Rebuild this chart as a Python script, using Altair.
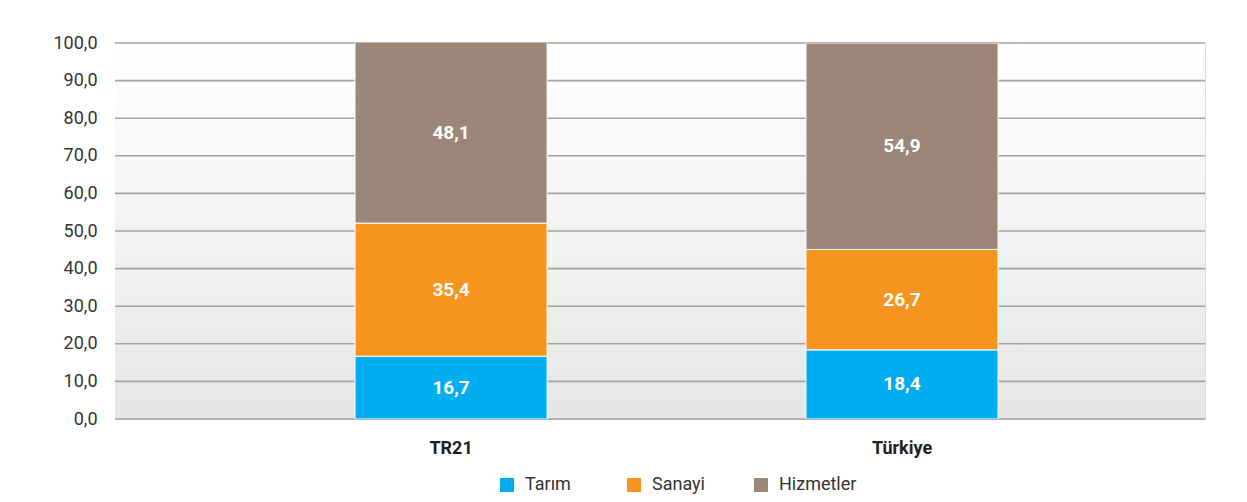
import altair as alt
import pandas as pd

categories = ["TR21", "Türkiye"]
series = ["Tarım", "Sanayi", "Hizmetler"]
tarim = [16.7, 18.4]
sanayi = [35.4, 26.7]
hizmetler = [48.1, 54.9]
y_ticks = [0, 10, 20, 30, 40, 50, 60, 70, 80, 90, 100]
colors = ["#00AEEF", "#F7941D", "#9C8677"]

FONT = "Roboto"

rows = []
for ci, c in enumerate(categories):
    for si, (s, vals) in enumerate(zip(series, [tarim, sanayi, hizmetler])):
        rows.append({"cat": c, "series": s, "idx": si, "value": vals[ci]})
df = pd.DataFrame(rows)

W, H = 1090, 376
yscale = alt.Scale(domain=[0, 100], nice=False, zero=True)
xscale = alt.Scale(domain=categories, paddingInner=0.574, paddingOuter=0.4956, align=0.537)

yaxis = alt.Axis(
    values=y_ticks, title=None, domain=False, ticks=False, grid=False,
    labelOverlap=False, tickCount=11,
    labelExpr="replace(format(datum.value, '.1f'), '.', ',')",
    labelFontSize=18, labelColor="#333333", labelPadding=18, labelFont=FONT,
)
xaxis = alt.Axis(
    title=None, labelAngle=0, ticks=False, domain=False,
    labelFontSize=18, labelFontWeight="bold", labelColor="#231f20",
    labelPadding=20, labelFont=FONT,
)

bg = alt.Chart(alt.Data(values=[{}])).mark_rect(
    fill=alt.Gradient(
        gradient="linear",
        stops=[alt.GradientStop(color="#ffffff", offset=0),
               alt.GradientStop(color="#e5e6e8", offset=1)],
        x1=0, x2=0, y1=0, y2=1,
    )
).encode(x=alt.value(0), x2=alt.value("width"), y=alt.value(0), y2=alt.value("height"))

grid = alt.Chart(pd.DataFrame({"v": y_ticks})).mark_rule(
    color="#a3a3a3", strokeWidth=1.6
).encode(
    y=alt.Y("v:Q", scale=yscale, axis=yaxis),
    x=alt.value(0), x2=alt.value("width"),
)

base = alt.Chart(df)

bars = base.mark_bar(clip=True, stroke="white", strokeWidth=1).encode(
    x=alt.X("cat:N", scale=xscale, sort=categories, axis=xaxis),
    y=alt.Y("value:Q", stack="zero", scale=yscale, axis=yaxis),
    color=alt.Color("series:N", scale=alt.Scale(domain=series, range=colors),
                    legend=alt.Legend(
                        title=None, orient="none", direction="horizontal",
                        legendX=383, legendY=433, columns=3, gridAlign="all",
                        symbolType="square", symbolSize=196, symbolStrokeWidth=0,
                        labelFontSize=18, labelColor="#333333", labelFont=FONT,
                        columnPadding=22, symbolOffset=0, labelOffset=9, padding=0,
                    )),
    order=alt.Order("idx:Q", sort="ascending"),
)

labels = base.transform_window(
    cum="sum(value)", groupby=["cat"], sort=[alt.SortField("idx")]
).transform_calculate(
    mid="datum.cum - datum.value / 2",
    lab="replace(format(datum.value, '.1f'), '.', ',')",
).mark_text(
    color="white", fontSize=19, fontWeight="bold", font=FONT, baseline="middle"
).encode(
    x=alt.X("cat:N", scale=xscale, sort=categories, axis=xaxis),
    y=alt.Y("mid:Q", scale=yscale, axis=yaxis),
    text="lab:N",
)

chart = alt.layer(bg, grid, bars, labels).properties(
    width=W, height=H,
    autosize=alt.AutoSizeParams(type="none"),
    padding={"left": 107, "top": 35, "right": 34, "bottom": 75},
).configure_view(stroke=None).configure(background="white", font=FONT)

chart.save("out.html", embed_options={"renderer": "svg", "actions": False})
